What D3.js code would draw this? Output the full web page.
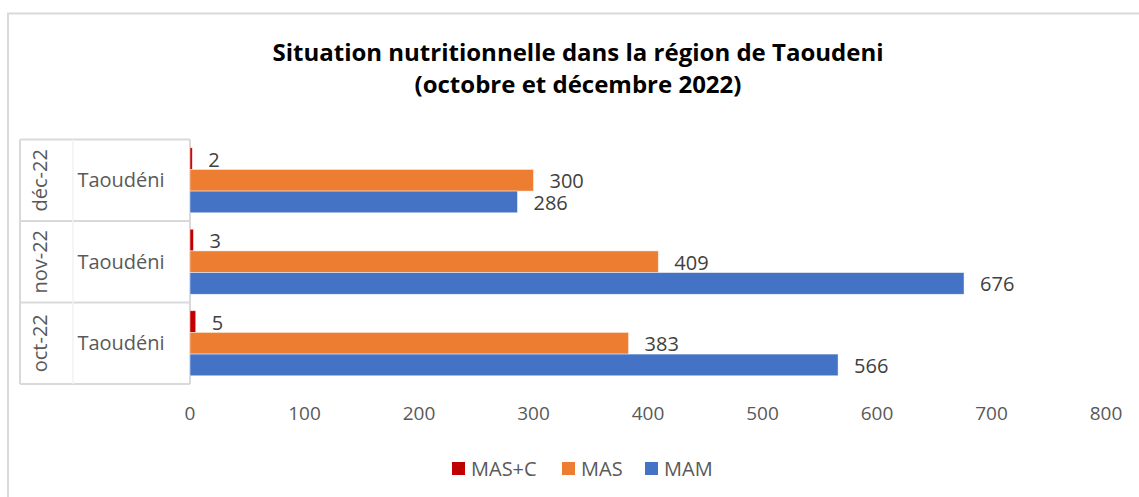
<!DOCTYPE html>
<html>
<head>
  <meta charset="utf-8">
  <title>Situation nutritionnelle - Taoudéni</title>
  <script src="https://d3js.org/d3.v7.min.js"></script>
  <style>
    body { margin: 0; background: #fff; }
    svg { font-family: "Open Sans", "DejaVu Sans", sans-serif; }
  </style>
</head>
<body>
  <svg id="chart" width="1139" height="497"></svg>

  <script>
    // Data (top to bottom as drawn)
    var months = ["déc-22", "nov-22", "oct-22"];
    var region = "Taoudéni";
    var series = ["MAS+C", "MAS", "MAM"];
    var masc = [2, 3, 5];
    var mas = [300, 409, 383];
    var mam = [286, 676, 566];
    var xTicks = [0, 100, 200, 300, 400, 500, 600, 700, 800];
    var colors = ["#C00000", "#ED7D31", "#4472C4"];

    var values = [masc, mas, mam];

    var svg = d3.select("#chart");

    // Outer chart border (cropped on the right and bottom)
    svg.append("rect")
      .attr("x", 8)
      .attr("y", 13.5)
      .attr("width", 1200)
      .attr("height", 600)
      .attr("fill", "none")
      .attr("stroke", "#d9d9d9")
      .attr("stroke-width", 2);

    // Title
    var title = svg.append("text")
      .attr("text-anchor", "middle")
      .attr("font-weight", "bold")
      .attr("font-size", 24)
      .attr("fill", "#000");
    title.append("tspan").attr("x", 578).attr("y", 61)
      .text("Situation nutritionnelle dans la région de Taoudeni");
    title.append("tspan").attr("x", 578).attr("y", 93)
      .text("(octobre et décembre 2022)");

    // Scales
    var x = d3.scaleLinear().domain([0, 800]).range([190, 1106]);
    var y = d3.scaleBand().domain(months).range([139.5, 384]).paddingInner(0);
    var yInner = d3.scaleBand().domain(series).range([0, y.bandwidth()]).paddingOuter(0.38).paddingInner(0);

    // Category axis grid (multi-level)
    var catLines = months.map(function(m) { return y(m); }).concat([y.range()[1]]);
    svg.append("g").selectAll("line")
      .data(catLines)
      .join("line")
      .attr("x1", 20).attr("x2", 190)
      .attr("y1", function(d) { return d; })
      .attr("y2", function(d) { return d; })
      .attr("stroke", "#d9d9d9")
      .attr("stroke-width", 2);

    svg.append("line")
      .attr("x1", 20).attr("x2", 20)
      .attr("y1", y.range()[0]).attr("y2", y.range()[1])
      .attr("stroke", "#d9d9d9").attr("stroke-width", 2);

    svg.append("line")
      .attr("x1", 73).attr("x2", 73)
      .attr("y1", y.range()[0]).attr("y2", y.range()[1])
      .attr("stroke", "#f2f2f2").attr("stroke-width", 1.5);

    svg.append("line")
      .attr("x1", 190).attr("x2", 190)
      .attr("y1", y.range()[0]).attr("y2", y.range()[1])
      .attr("stroke", "#d9d9d9").attr("stroke-width", 2);

    // Category labels
    svg.append("g").selectAll("text")
      .data(months)
      .join("text")
      .attr("x", 121)
      .attr("y", function(d) { return y(d) + y.bandwidth() / 2; })
      .attr("dy", "0.35em")
      .attr("text-anchor", "middle")
      .attr("font-size", 20)
      .attr("fill", "#595959")
      .text(region);

    svg.append("g").selectAll("text")
      .data(months)
      .join("text")
      .attr("transform", function(d) {
        return "translate(46.5," + (y(d) + y.bandwidth() / 2) + ") rotate(-90)";
      })
      .attr("text-anchor", "middle")
      .attr("font-size", 20)
      .attr("fill", "#595959")
      .text(function(d) { return d; });

    // Bars
    var rows = [];
    months.forEach(function(m, i) {
      series.forEach(function(s, j) {
        rows.push({ month: m, series: s, value: values[j][i], color: colors[j] });
      });
    });

    svg.append("g").selectAll("rect")
      .data(rows)
      .join("rect")
      .attr("x", x(0))
      .attr("y", function(d) { return y(d.month) + yInner(d.series); })
      .attr("width", function(d) { return x(d.value) - x(0); })
      .attr("height", yInner.bandwidth())
      .attr("fill", function(d) { return d.color; })
      .attr("stroke", "#ffffff")
      .attr("stroke-opacity", 0.6)
      .attr("stroke-width", 0.75);

    // Data labels
    svg.append("g").selectAll("text")
      .data(rows)
      .join("text")
      .attr("x", function(d) { return x(d.value) + 16; })
      .attr("y", function(d) { return y(d.month) + yInner(d.series) + yInner.bandwidth() / 2 + 1; })
      .attr("dy", "0.35em")
      .attr("font-size", 20)
      .attr("fill", "#404040")
      .text(function(d) { return d.value; });

    // Value axis labels
    svg.append("g").selectAll("text")
      .data(xTicks)
      .join("text")
      .attr("x", function(d) { return x(d); })
      .attr("y", 420)
      .attr("text-anchor", "middle")
      .attr("font-size", 19)
      .attr("fill", "#595959")
      .text(function(d) { return d; });

    // Legend
    var legendX = d3.scaleOrdinal().domain(series).range([452, 562, 645]);
    var legend = svg.append("g").selectAll("g")
      .data(series)
      .join("g")
      .attr("transform", function(d) { return "translate(" + legendX(d) + ",462)"; });

    legend.append("rect")
      .attr("width", 13).attr("height", 13)
      .attr("fill", function(d, i) { return colors[i]; });

    legend.append("text")
      .attr("x", 19)
      .attr("y", 6.5)
      .attr("dy", "0.35em")
      .attr("font-size", 20)
      .attr("fill", "#595959")
      .text(function(d) { return d; });
  </script>
</body>
</html>
